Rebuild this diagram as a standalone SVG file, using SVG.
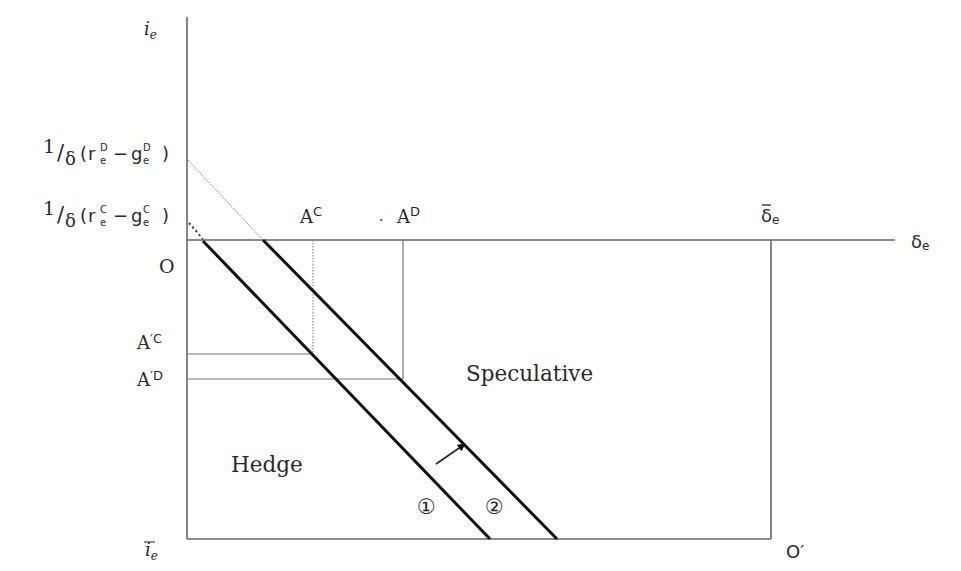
<svg xmlns="http://www.w3.org/2000/svg" width="961" height="571" viewBox="0 0 961 571">
<style>
.ax{stroke:#666;stroke-width:1.6;fill:none}
.th{stroke:#777;stroke-width:1.2;fill:none}
.bold{stroke:#111;stroke-width:3;fill:none}
.dot{stroke:#777;stroke-width:1;stroke-dasharray:1.5 1.5;fill:none}
.dot2{stroke:#333;stroke-width:2;stroke-dasharray:2 3;fill:none}
text{font-family:"DejaVu Serif","Liberation Serif",serif;fill:#2a2a2a}
.sans{font-family:"DejaVu Sans","Liberation Sans",sans-serif}
.sm{font-size:10px;font-family:"DejaVu Sans","Liberation Sans",sans-serif}
.big{font-size:21.5px}
</style>
<defs>
<marker id="ah" viewBox="0 0 10 10" refX="9" refY="5" markerWidth="5" markerHeight="5" orient="auto">
<path d="M0,0 L10,5 L0,10 z" fill="#111"/>
</marker>
</defs>
<rect width="961" height="571" fill="#fff"/>
<g id="connectors">
<line class="ax" x1="187" y1="17" x2="187" y2="539"/>
<line class="ax" x1="187" y1="240" x2="895" y2="240"/>
<line class="ax" x1="187" y1="539" x2="771" y2="539"/>
<line class="ax" x1="771" y1="240" x2="771" y2="539"/>
<line class="dot" x1="313" y1="240" x2="313" y2="354"/>
<line class="th" x1="187" y1="354" x2="313" y2="354"/>
<line class="th" x1="403" y1="240" x2="403" y2="379"/>
<line class="th" x1="187" y1="379" x2="403" y2="379"/>
<line class="dot2" x1="189" y1="223" x2="203" y2="239"/>
<line class="dot" x1="188" y1="160" x2="263" y2="240"/>
<line id="line1" class="bold" x1="203" y1="241" x2="490" y2="539"/>
<line id="line2" class="bold" x1="263" y1="240" x2="557" y2="539"/>
<line x1="436" y1="464" x2="465" y2="444" style="stroke:#222;stroke-width:1.6" marker-end="url(#ah)"/>
</g>
<g id="labels">
<text x="144" y="35" font-size="18" font-style="italic">i<tspan font-size="12" dy="4">e</tspan></text>
<text x="145" y="556" font-size="18" font-style="italic">i<tspan font-size="12" dy="4">e</tspan></text>
<line x1="144" y1="542" x2="155" y2="542" stroke="#444" stroke-width="1.2"/>
<g id="lab-D">
<text x="43" y="153" font-size="19">1</text>
<text x="57" y="160" font-size="21" class="sans">/</text>
<text x="65" y="165" font-size="18">δ</text>
<text x="80" y="160" font-size="18" class="sans">(</text>
<text x="88" y="160" font-size="18" class="sans">r</text>
<text x="100" y="151" class="sm">D</text>
<text x="100" y="164" class="sm">e</text>
<text x="113" y="160" font-size="18" class="sans">−</text>
<text x="131" y="160" font-size="18" class="sans">g</text>
<text x="143" y="151" class="sm">D</text>
<text x="143" y="164" class="sm">e</text>
<text x="162" y="160" font-size="18" class="sans">)</text>
</g>
<g id="lab-C">
<text x="43" y="215" font-size="19">1</text>
<text x="57" y="222" font-size="21" class="sans">/</text>
<text x="65" y="227" font-size="18">δ</text>
<text x="80" y="222" font-size="18" class="sans">(</text>
<text x="88" y="222" font-size="18" class="sans">r</text>
<text x="100" y="213" class="sm">C</text>
<text x="100" y="226" class="sm">e</text>
<text x="113" y="222" font-size="18" class="sans">−</text>
<text x="131" y="222" font-size="18" class="sans">g</text>
<text x="143" y="213" class="sm">C</text>
<text x="143" y="226" class="sm">e</text>
<text x="162" y="222" font-size="18" class="sans">)</text>
</g>
<text x="159" y="273" font-size="19">O</text>
<text x="300" y="223" font-size="18">A<tspan font-size="13" dy="-7" class="sans">C</tspan></text>
<text x="379" y="221" font-size="14">.</text>
<text x="397" y="223" font-size="18">A<tspan font-size="13" dy="-7" class="sans">D</tspan></text>
<text x="137" y="349" font-size="18">A<tspan font-size="13" dy="-6" class="sans">′C</tspan></text>
<text x="137" y="386" font-size="18">A<tspan font-size="13" dy="-6" class="sans">′D</tspan></text>
<text x="761" y="222" font-size="18" class="sans">δ<tspan font-size="12" dy="2">e</tspan></text>
<line x1="762" y1="205" x2="771" y2="205" stroke="#444" stroke-width="1.5"/>
<text x="911" y="248" font-size="18" class="sans">δ<tspan font-size="12" dy="2">e</tspan></text>
<text x="466" y="381" class="big">Speculative</text>
<text x="231" y="472" class="big">Hedge</text>
<text x="417" y="514" font-size="21" class="sans">①</text>
<text x="485" y="514" font-size="21" class="sans">②</text>
<text x="786" y="558" font-size="18" class="sans">O′</text>
</g>
</svg>
